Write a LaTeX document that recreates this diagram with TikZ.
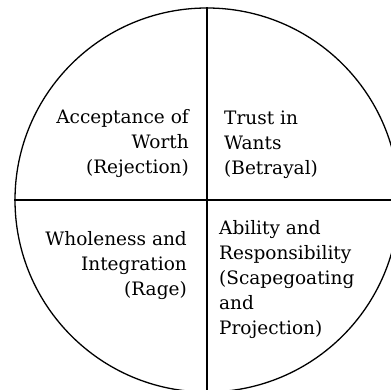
\documentclass[tikz,border=0pt]{standalone}
\usepackage{fontspec}
\setmainfont{DejaVu Serif}
\usetikzlibrary{positioning}
\tikzset{
  wheel/.style={
    circle, draw=black, line width=1.3pt,
    minimum size=384pt, inner sep=0pt,
  },
  divider/.style={line width=1.3pt, draw=black},
  qtxt/.style args={#1}{
    font=\fontsize{18.5}{25}\selectfont, align=#1,
    inner sep=0pt,
  },
}
\begin{document}
\begin{tikzpicture}[x=1pt,y=1pt]
  \useasboundingbox (0,0) rectangle (391,390);
  \clip (0,0) rectangle (391,390);
  \node[wheel] (wheel) at (207,190) {};
  \draw[divider] (wheel.north) -- (wheel.south);
  \draw[divider] (wheel.west) -- (wheel.east);
  % quadrant texts
  \node[qtxt=right, anchor=base east] (worth) at (189,216)
    {Acceptance of\\Worth\\(Rejection)};
  \node[qtxt=left, anchor=base west] (trust) at (224,215)
    {Trust in\\Wants\\(Betrayal)};
  \node[qtxt=right, anchor=base east] (whole) at (187,94)
    {Wholeness and\\Integration\\(Rage)};
  \node[qtxt=left, anchor=base west] (ability) at (219,55)
    {Ability and\\Responsibility\\(Scapegoating\\and\\Projection)};
\end{tikzpicture}
\end{document}
